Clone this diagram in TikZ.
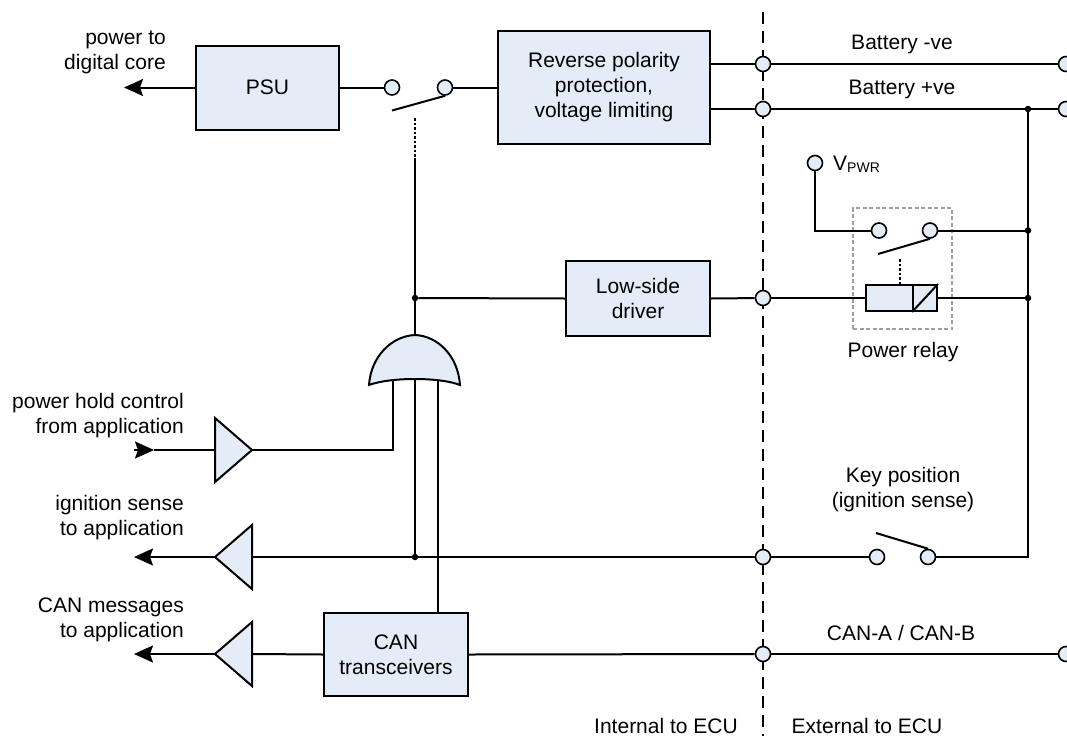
\documentclass[tikz,border=0pt]{standalone}
\usepackage{fontspec}
\setmainfont{Liberation Sans}
\usetikzlibrary{arrows.meta}
\definecolor{boxfill}{RGB}{228,236,247}
\newcommand\diagfont{\fontsize{21}{25}\selectfont}
\begin{document}
\begin{tikzpicture}[x=1pt,y=-1pt,
  wire/.style={line width=2pt},
  blk/.style={draw, line width=2pt, fill=boxfill, inner sep=0pt, align=center, font=\diagfont},
  term/.style={circle, draw, line width=1.6pt, fill=boxfill, minimum size=15pt, inner sep=0pt},
  jdot/.style={circle, fill, minimum size=6.5pt, inner sep=0pt},
  lbl/.style={font=\diagfont, align=center, inner sep=0pt},
  lbll/.style={font=\diagfont, align=right, inner sep=0pt, anchor=east},
  arr/.style={wire, -{Stealth[length=19pt,width=17pt,inset=3pt]}},
  buf/.style={draw, line width=2pt, fill=boxfill, line join=miter},
  dotline/.style={line width=2pt, dash pattern=on 2.5pt off 2pt},
  border/.style={line width=2pt, dash pattern=on 12pt off 7pt},
  relaybox/.style={draw=gray!75, line width=1.1pt, dash pattern=on 4pt off 2.5pt, minimum width=99pt, minimum height=121pt, inner sep=0pt}
]
\useasboundingbox (0,0) rectangle (1067,736);

% internal / external border
\coordinate (dtop) at (763,12);
\coordinate (dbot) at (763,736);
\draw[border] (dtop) -- (dbot);

% relay enclosure
\node[relaybox] (rbox) at (902.5,268.5) {};

% blocks
\node[blk, minimum width=143pt, minimum height=84pt] (psu) at (267.5,87.5) {PSU};
\node[blk, minimum width=212pt, minimum height=113pt] (rev) at (604,87.5) {Reverse polarity\\protection,\\voltage limiting};
\node[blk, minimum width=144pt, minimum height=75pt] (lsd) at (638,298.5) {Low-side\\driver};
\node[blk, minimum width=144pt, minimum height=83pt] (can) at (396,654.5) {CAN\\transceivers};

% terminals
\node[term] (t1) at (392,87.5) {};
\node[term] (t2) at (445,87.5) {};
\node[term] (bn) at (763,64) {};
\node[term] (bp) at (763,109) {};
\node[term] (bnR) at (1066,64) {};
\node[term] (bpR) at (1066,109) {};
\node[term] (ld) at (763,298) {};
\node[term] (ig) at (763,557) {};
\node[term] (cn) at (763,654) {};
\node[term] (cnR) at (1066,654) {};
\node[term] (vp) at (815,163) {};
\node[term] (r1) at (879,230.5) {};
\node[term] (r2) at (930,230.5) {};
\node[term] (k1) at (877,557) {};
\node[term] (k2) at (928,557) {};

% relay coil
\node[draw, line width=2pt, fill=boxfill, minimum width=47pt, minimum height=26pt, inner sep=0pt] (coilA) at (889.5,298) {};
\node[draw, line width=2pt, fill=boxfill, minimum width=24pt, minimum height=26pt, inner sep=0pt] (coilB) at (925,298) {};
\draw[wire] (coilB.south west) -- (coilB.north east);

% junction dots
\node[jdot] (j1) at (415,298) {};
\node[jdot] (j2) at (415,557) {};
\node[jdot] (jR0) at (1028,109) {};
\node[jdot] (jR1) at (1028,230.5) {};
\node[jdot] (jR2) at (1028,298) {};

% coordinates
\coordinate (o0) at (124,87.5);
\coordinate (b1) at (392,110.5);
\coordinate (dt1) at (415,118);
\coordinate (dt2) at (415,158);
\coordinate (b2) at (878,254);
\coordinate (rd1) at (900,259);
\coordinate (rd2) at (900,285);
\coordinate (b3) at (876,533);
\coordinate (gL) at (369,385);
\coordinate (gtop) at (415,335);
\coordinate (gR) at (460,385);
\coordinate (gi1) at (393,381);
\coordinate (gi2) at (415,380);
\coordinate (gi3) at (438,381);
\coordinate (in1) at (134,450);
\coordinate (in1tip) at (154,450);
\coordinate (u1a) at (215,418);
\coordinate (u1b) at (215,482);
\coordinate (u1t) at (252,450);
\coordinate (u2a) at (252,525);
\coordinate (u2b) at (252,589);
\coordinate (u2t) at (215,557);
\coordinate (u2r) at (252,557);
\coordinate (u3a) at (252,622);
\coordinate (u3b) at (252,686);
\coordinate (u3t) at (215,654);
\coordinate (u3r) at (252,654);
\coordinate (o2) at (134,557);
\coordinate (o3) at (134,654);

% top row
\draw[arr] (psu.west) -- (o0);
\draw[wire] (psu.east) -- (t1);
\draw[wire] (t2) -- (rev.west);
\draw[wire] (b1) -- (t2.south);
\draw[dotline] (dt1) -- (dt2);
\draw[wire] (dt2) -- (j1) -- (gtop);
\draw[wire] (rev.east |- bn) -- (bn);
\draw[wire] (rev.east |- bp) -- (bp);
\draw[wire] (bn) -- (bnR);
\draw[wire] (bp) -- (jR0) -- (bpR);

% relay wiring
\draw[wire] (vp) |- (r1);
\draw[wire] (r2) -- (jR1);
\draw[wire] (b2) -- (r2.south);
\draw[dotline] (rd1) -- (rd2);
\draw[wire] (j1) -- (lsd.west);
\draw[wire] (lsd.east) -- (ld);
\draw[wire] (ld) -- (coilA.west);
\draw[wire] (coilB.east) -- (jR2);

% right bus and key switch
\draw[wire] (k2) -| (jR0);
\draw[wire] (ig) -- (k1);
\draw[wire] (b3) -- (k2.north);

% ignition and CAN lines
\draw[wire] (u2r) -- (ig);
\draw[wire] (can.east) -- (cn);
\draw[wire] (cn) -- (cnR);
\draw[wire] (u3r) -- (can.west);

% gate inputs
\draw[wire] (gi1) |- (u1t);
\draw[wire] (gi2) -- (j2);
\draw[wire] (gi3) -- (gi3 |- can.north);

% OR gate
\draw[buf] (gL) .. controls (371,356) and (392,336) .. (gtop) .. controls (438,336) and (458,356) .. (gR) .. controls (440,377) and (390,377) .. (gL) -- cycle;

% buffers
\draw[buf] (u1a) -- (u1b) -- (u1t) -- cycle;
\draw[buf] (u2a) -- (u2b) -- (u2t) -- cycle;
\draw[buf] (u3a) -- (u3b) -- (u3t) -- cycle;
\draw[arr] (in1) -- (in1tip);
\draw[wire] (in1tip) -- (u1a |- in1);
\draw[arr] (u2t) -- (o2);
\draw[arr] (u3t) -- (o3);

% labels
\node[lbll] (lpw) at (166,52.5) {power to\\digital core};
\node[lbll] (lph) at (184,415.5) {power hold control\\from application};
\node[lbll] (lig) at (184,517.5) {ignition sense\\to application};
\node[lbll] (lcm) at (184,619.5) {CAN messages\\to application};
\node[lbl] (lbn) at (902,44) {Battery -ve};
\node[lbl] (lbp) at (902,89) {Battery +ve};
\node[lbl, anchor=west] (lvp) at (833,164) {V{\fontsize{14}{14}\selectfont\raisebox{-2pt}{PWR}}};
\node[lbl] (lpr) at (903,352) {Power relay};
\node[lbl] (lkp) at (903,489.5) {Key position\\(ignition sense)};
\node[lbl] (lcan) at (901,633) {CAN-A / CAN-B};
\node[lbl] (lint) at (666,726) {Internal to ECU};
\node[lbl] (lext) at (867,726) {External to ECU};
\end{tikzpicture}
\end{document}
